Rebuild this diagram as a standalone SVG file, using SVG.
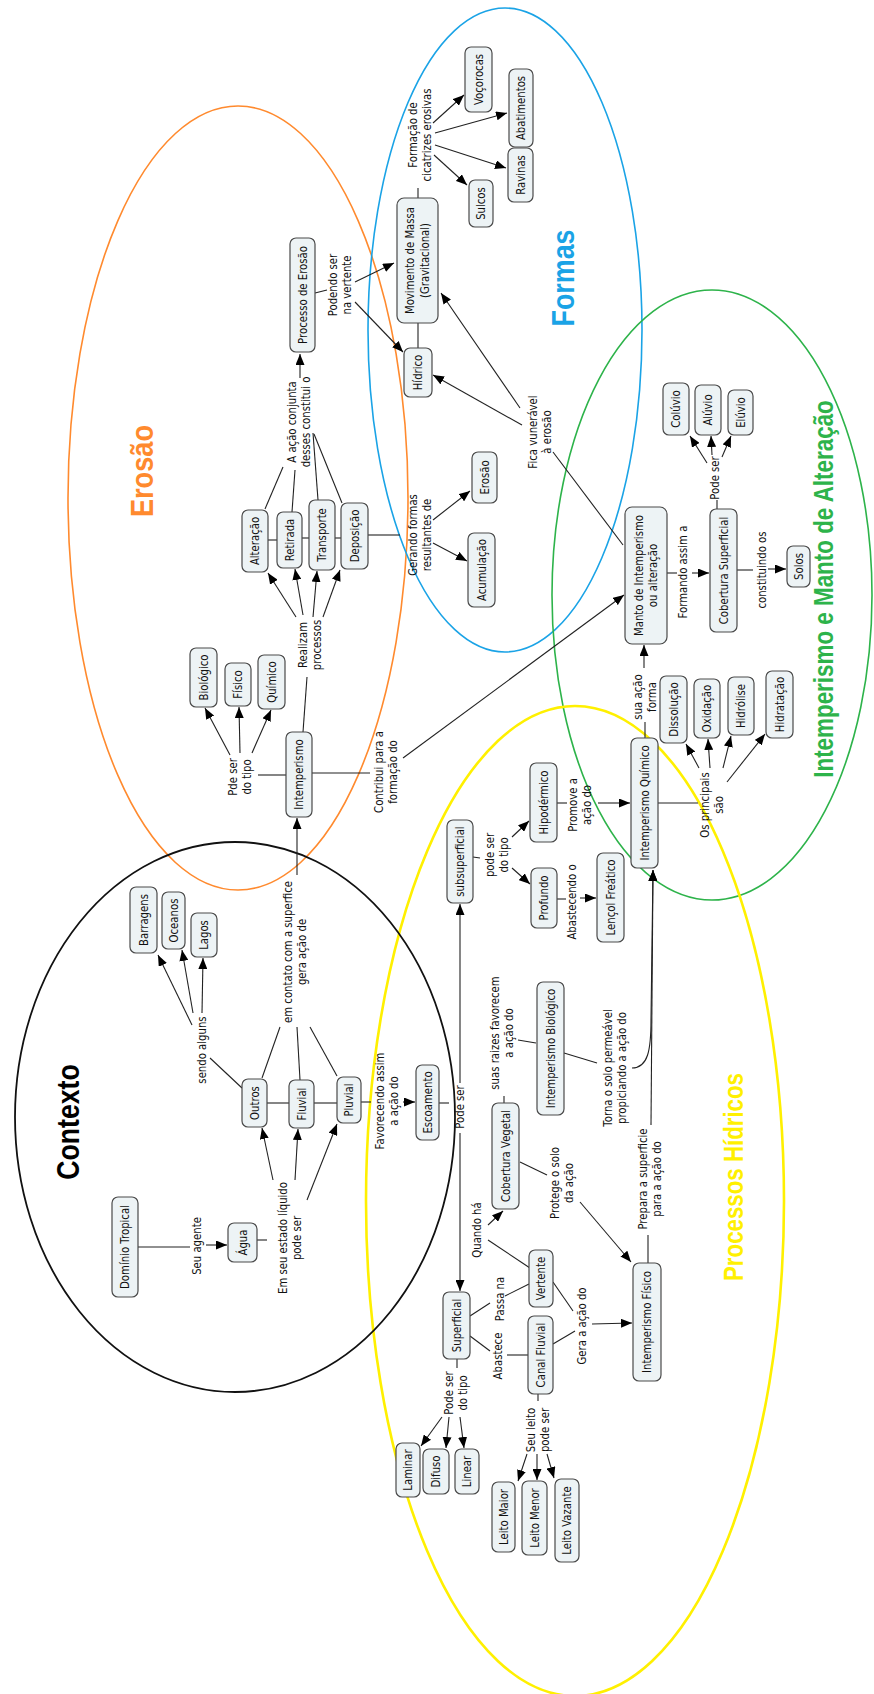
<svg xmlns="http://www.w3.org/2000/svg" width="874" height="1694" viewBox="0 0 874 1694">
<defs>
<style>
.n rect{fill:#EDF3F5;stroke:#4a4a4a;stroke-width:1.2}
.t{font-family:"DejaVu Sans",Verdana,sans-serif;font-size:11.5px;fill:#111;text-anchor:middle}
.ti{font-family:"Liberation Sans",Arial,sans-serif;font-weight:bold;text-anchor:middle}
#conn line,#conn path{stroke:#222;stroke-width:1.1;fill:none}
.ar{marker-end:url(#a)}
.el{fill:none}
</style>
<marker id="a" markerUnits="userSpaceOnUse" markerWidth="11" markerHeight="9" refX="11" refY="4.5" orient="auto"><path d="M0,0 L11,4.5 L0,9 z" fill="#000"/></marker>
</defs>
<rect width="874" height="1694" fill="#fff"/>
<g id="areas">
<ellipse class="el" cx="238" cy="498" rx="170" ry="392" stroke="#FF8A2E" stroke-width="1.6"/>
<ellipse class="el" cx="505" cy="330" rx="137" ry="322" stroke="#1AA3E6" stroke-width="1.6"/>
<ellipse class="el" cx="712" cy="595" rx="160" ry="305" stroke="#2DB34A" stroke-width="1.6"/>
<ellipse class="el" cx="575" cy="1201" rx="209" ry="495" stroke="#FFF000" stroke-width="2.6"/>
<ellipse class="el" cx="235" cy="1117" rx="220" ry="275" stroke="#111" stroke-width="1.8"/>
<text class="ti" font-size="32" fill="#FF8A2E" transform="translate(142,471) rotate(-90) scale(0.85,1)" y="11">Erosão</text>
<text class="ti" font-size="32" fill="#1AA3E6" transform="translate(563,278) rotate(-90) scale(0.84,1)" y="11">Formas</text>
<text class="ti" font-size="31" fill="#000" transform="translate(68,1122) rotate(-90) scale(0.86,1)" y="11">Contexto</text>
<text class="ti" font-size="27" fill="#2DB34A" transform="translate(823,589) rotate(-90) scale(0.83,1)" y="9.5">Intemperismo e Manto de Alteração</text>
<text class="ti" font-size="27" fill="#FFF000" transform="translate(733,1177) rotate(-90) scale(0.825,1)" y="9.5">Processos Hídricos</text>
</g>
<g id="conn">
<line x1="315" y1="293" x2="327" y2="290"/>
<line class="ar" x1="355" y1="282" x2="394" y2="263"/>
<line class="ar" x1="355" y1="302" x2="403" y2="352"/>
<line x1="418" y1="323" x2="418" y2="348"/>
<line x1="418" y1="198" x2="418" y2="188"/>
<line class="ar" x1="433" y1="123" x2="464" y2="95"/>
<line class="ar" x1="435" y1="133" x2="507" y2="113"/>
<line class="ar" x1="435" y1="145" x2="506" y2="168"/>
<line class="ar" x1="434" y1="155" x2="467" y2="185"/>
<line class="ar" x1="522" y1="425" x2="433" y2="375"/>
<line class="ar" x1="520" y1="408" x2="441" y2="293"/>
<line x1="623" y1="545" x2="553" y2="452"/>
<line class="ar" x1="300" y1="378" x2="300" y2="354"/>
<line x1="265" y1="509" x2="283" y2="467"/>
<line x1="292" y1="512" x2="295" y2="470"/>
<line x1="318" y1="500" x2="313" y2="433"/>
<line x1="342" y1="503" x2="314" y2="434"/>
<line x1="268" y1="540" x2="277" y2="540"/>
<line x1="302" y1="538" x2="309" y2="538"/>
<line x1="335" y1="538" x2="341" y2="538"/>
<line x1="303" y1="732" x2="307" y2="677"/>
<line class="ar" x1="296" y1="617" x2="268" y2="573"/>
<line class="ar" x1="303" y1="615" x2="295" y2="569"/>
<line class="ar" x1="313" y1="617" x2="317" y2="571"/>
<line class="ar" x1="323" y1="617" x2="340" y2="570"/>
<line x1="368" y1="535" x2="400" y2="535" stroke-width="2"/>
<line class="ar" x1="433" y1="520" x2="470" y2="491"/>
<line class="ar" x1="433" y1="543" x2="467" y2="561"/>
<line x1="286" y1="775" x2="258" y2="775"/>
<line class="ar" x1="230" y1="755" x2="205" y2="708"/>
<line class="ar" x1="240" y1="753" x2="239" y2="707"/>
<line class="ar" x1="252" y1="753" x2="271" y2="710"/>
<line x1="312" y1="773" x2="370" y2="773"/>
<line class="ar" x1="403" y1="758" x2="624" y2="595"/>
<line x1="667" y1="573" x2="677" y2="573"/>
<line class="ar" x1="692" y1="573" x2="709" y2="573"/>
<line x1="717" y1="509" x2="717" y2="500"/>
<line class="ar" x1="707" y1="463" x2="690" y2="436"/>
<line class="ar" x1="712" y1="455" x2="711" y2="436"/>
<line class="ar" x1="722" y1="457" x2="731" y2="436"/>
<line x1="737" y1="570" x2="753" y2="570"/>
<line class="ar" x1="768" y1="569" x2="786" y2="569"/>
<line class="ar" x1="644" y1="668" x2="644" y2="645"/>
<line x1="645" y1="738" x2="645" y2="722"/>
<line x1="658" y1="803" x2="698" y2="803"/>
<line class="ar" x1="699" y1="768" x2="686" y2="744"/>
<line class="ar" x1="710" y1="768" x2="708" y2="739"/>
<line class="ar" x1="723" y1="768" x2="731" y2="736"/>
<line class="ar" x1="727" y1="782" x2="765" y2="734"/>
<line class="ar" x1="598" y1="803" x2="630" y2="803"/>
<line x1="557" y1="803" x2="567" y2="803"/>
<line class="ar" x1="512" y1="837" x2="529" y2="821"/>
<line class="ar" x1="512" y1="868" x2="530" y2="884"/>
<line x1="473" y1="857" x2="480" y2="858"/>
<line x1="557" y1="899" x2="566" y2="899"/>
<line class="ar" x1="580" y1="898" x2="596" y2="898"/>
<line class="ar" x1="297" y1="875" x2="297" y2="818"/>
<line x1="262" y1="1078" x2="280" y2="1027"/>
<line x1="300" y1="1080" x2="297" y2="1027"/>
<line x1="337" y1="1076" x2="310" y2="1027"/>
<line x1="267" y1="1103" x2="289" y2="1103"/>
<line x1="314" y1="1103" x2="337" y2="1103" stroke-width="2"/>
<line x1="242" y1="1088" x2="210" y2="1058"/>
<line class="ar" x1="192" y1="1025" x2="158" y2="955"/>
<line class="ar" x1="193" y1="1013" x2="182" y2="950"/>
<line class="ar" x1="202" y1="1013" x2="203" y2="958"/>
<line x1="138" y1="1247" x2="190" y2="1247"/>
<line class="ar" x1="206" y1="1245" x2="227" y2="1245"/>
<line x1="257" y1="1240" x2="267" y2="1240"/>
<line class="ar" x1="273" y1="1180" x2="262" y2="1128"/>
<line class="ar" x1="295" y1="1180" x2="298" y2="1129"/>
<line class="ar" x1="307" y1="1200" x2="337" y2="1124"/>
<line x1="361" y1="1102" x2="371" y2="1102"/>
<line class="ar" x1="403" y1="1102" x2="415" y2="1102"/>
<line x1="439" y1="1103" x2="449" y2="1103"/>
<line class="ar" x1="460" y1="1083" x2="460" y2="904"/>
<line class="ar" x1="460" y1="1133" x2="460" y2="1291"/>
<line x1="504" y1="1103" x2="504" y2="1096"/>
<line x1="518" y1="1040" x2="536" y2="1043"/>
<line x1="564" y1="1053" x2="597" y2="1063"/>
<path class="ar" d="M632,1068 C648,1068 651,1050 651,1020 L653,870"/>
<line class="ar" x1="651" y1="1125" x2="653" y2="870"/>
<line x1="648" y1="1263" x2="648" y2="1235"/>
<line x1="520" y1="1162" x2="547" y2="1175"/>
<line class="ar" x1="580" y1="1202" x2="631" y2="1262"/>
<line class="ar" x1="488" y1="1225" x2="503" y2="1211"/>
<line x1="488" y1="1240" x2="530" y2="1268"/>
<line x1="470" y1="1316" x2="490" y2="1303"/>
<line x1="505" y1="1296" x2="529" y2="1284"/>
<line x1="470" y1="1336" x2="490" y2="1351"/>
<line x1="507" y1="1355" x2="528" y2="1355"/>
<line x1="553" y1="1282" x2="573" y2="1311"/>
<line x1="553" y1="1344" x2="575" y2="1331"/>
<line class="ar" x1="592" y1="1324" x2="632" y2="1323"/>
<line x1="457" y1="1359" x2="457" y2="1368"/>
<line class="ar" x1="442" y1="1417" x2="421" y2="1446"/>
<line class="ar" x1="449" y1="1417" x2="446" y2="1448"/>
<line class="ar" x1="460" y1="1417" x2="464" y2="1448"/>
<line x1="538" y1="1394" x2="538" y2="1401"/>
<line class="ar" x1="527" y1="1454" x2="518" y2="1481"/>
<line class="ar" x1="537" y1="1454" x2="537" y2="1480"/>
<line class="ar" x1="547" y1="1454" x2="554" y2="1478"/>
</g>
<g id="labels">
<text class="t" transform="translate(299,422) rotate(-90) scale(0.88,1)"><tspan x="0" y="-3.5">A ação conjunta</tspan><tspan x="0" y="11.5">desses constitui o</tspan></text>
<text class="t" transform="translate(340,285) rotate(-90) scale(0.88,1)"><tspan x="0" y="-3.5">Podendo ser</tspan><tspan x="0" y="11.5">na vertente</tspan></text>
<text class="t" transform="translate(420,135) rotate(-90) scale(0.88,1)"><tspan x="0" y="-3.5">Formação de</tspan><tspan x="0" y="11.5">cicatrizes erosivas</tspan></text>
<text class="t" transform="translate(540,432) rotate(-90) scale(0.88,1)"><tspan x="0" y="-3.5">Fica vunerável</tspan><tspan x="0" y="11.5">à erosão</tspan></text>
<text class="t" transform="translate(715,478) rotate(-90) scale(0.88,1)" y="4">Pode ser</text>
<text class="t" transform="translate(240,777) rotate(-90) scale(0.88,1)"><tspan x="0" y="-3.5">Pde ser</tspan><tspan x="0" y="11.5">do tipo</tspan></text>
<text class="t" transform="translate(310,645) rotate(-90) scale(0.88,1)"><tspan x="0" y="-3.5">Realizam</tspan><tspan x="0" y="11.5">processos</tspan></text>
<text class="t" transform="translate(420,535) rotate(-90) scale(0.88,1)"><tspan x="0" y="-3.5">Gerando formas</tspan><tspan x="0" y="11.5">resultantes de</tspan></text>
<text class="t" transform="translate(386,772) rotate(-90) scale(0.88,1)"><tspan x="0" y="-3.5">Contribui para a</tspan><tspan x="0" y="11.5">formação do</tspan></text>
<text class="t" transform="translate(683,572) rotate(-90) scale(0.88,1)" y="4">Formando assim a</text>
<text class="t" transform="translate(762,570) rotate(-90) scale(0.88,1)" y="4">constituindo os</text>
<text class="t" transform="translate(645,697) rotate(-90) scale(0.88,1)"><tspan x="0" y="-3.5">sua ação</tspan><tspan x="0" y="11.5">forma</tspan></text>
<text class="t" transform="translate(712,805) rotate(-90) scale(0.88,1)"><tspan x="0" y="-3.5">Os principais</tspan><tspan x="0" y="11.5">são</tspan></text>
<text class="t" transform="translate(580,805) rotate(-90) scale(0.88,1)"><tspan x="0" y="-3.5">Promove a</tspan><tspan x="0" y="11.5">ação do</tspan></text>
<text class="t" transform="translate(497,855) rotate(-90) scale(0.88,1)"><tspan x="0" y="-3.5">pode ser</tspan><tspan x="0" y="11.5">do tipo</tspan></text>
<text class="t" transform="translate(572,902) rotate(-90) scale(0.88,1)" y="4">Abastecendo o</text>
<text class="t" transform="translate(295,952) rotate(-90) scale(0.88,1)"><tspan x="0" y="-3.5">em contato com a superfice</tspan><tspan x="0" y="11.5">gera ação de</tspan></text>
<text class="t" transform="translate(202,1050) rotate(-90) scale(0.88,1)" y="4">sendo alguns</text>
<text class="t" transform="translate(197,1246) rotate(-90) scale(0.88,1)" y="4">Seu agente</text>
<text class="t" transform="translate(290,1238) rotate(-90) scale(0.88,1)"><tspan x="0" y="-3.5">Em seu estado líquido</tspan><tspan x="0" y="11.5">pode ser</tspan></text>
<text class="t" transform="translate(387,1101) rotate(-90) scale(0.88,1)"><tspan x="0" y="-3.5">Favorecendo assim</tspan><tspan x="0" y="11.5">a ação do</tspan></text>
<text class="t" transform="translate(460,1107) rotate(-90) scale(0.88,1)" y="4">Pode ser</text>
<text class="t" transform="translate(502,1033) rotate(-90) scale(0.88,1)"><tspan x="0" y="-3.5">suas raizes favorecem</tspan><tspan x="0" y="11.5">a ação do</tspan></text>
<text class="t" transform="translate(615,1068) rotate(-90) scale(0.88,1)"><tspan x="0" y="-3.5">Torna o solo permeável</tspan><tspan x="0" y="11.5">propiciando a ação do</tspan></text>
<text class="t" transform="translate(650,1179) rotate(-90) scale(0.88,1)"><tspan x="0" y="-3.5">Prepara a superficie</tspan><tspan x="0" y="11.5">para a ação do</tspan></text>
<text class="t" transform="translate(562,1183) rotate(-90) scale(0.88,1)"><tspan x="0" y="-3.5">Protege o solo</tspan><tspan x="0" y="11.5">da ação</tspan></text>
<text class="t" transform="translate(477,1230) rotate(-90) scale(0.88,1)" y="4">Quando há</text>
<text class="t" transform="translate(500,1299) rotate(-90) scale(0.88,1)" y="4">Passa na</text>
<text class="t" transform="translate(498,1356) rotate(-90) scale(0.88,1)" y="4">Abastece</text>
<text class="t" transform="translate(582,1326) rotate(-90) scale(0.88,1)" y="4">Gera a ação do</text>
<text class="t" transform="translate(456,1393) rotate(-90) scale(0.88,1)"><tspan x="0" y="-3.5">Pode ser</tspan><tspan x="0" y="11.5">do tipo</tspan></text>
<text class="t" transform="translate(538,1430) rotate(-90) scale(0.88,1)"><tspan x="0" y="-3.5">Seu leito</tspan><tspan x="0" y="11.5">pode ser</tspan></text>
</g>
<g id="n-processo" class="n"><rect x="290" y="238" width="25" height="114" rx="6"/><text class="t" transform="translate(302.5,295) rotate(-90) scale(0.88,1)" y="4">Processo de Erosão</text></g>
<g id="n-movimento" class="n"><rect x="397" y="198" width="41" height="125" rx="7"/><text class="t" transform="translate(417.5,260.5) rotate(-90) scale(0.88,1)"><tspan x="0" y="-3.5">Movimento de Massa</tspan><tspan x="0" y="11.5">(Gravitacional)</tspan></text></g>
<g id="n-hidrico" class="n"><rect x="404" y="348" width="28" height="49" rx="6"/><text class="t" transform="translate(418,372.5) rotate(-90) scale(0.88,1)" y="4">Hídrico</text></g>
<g id="n-vocorocas" class="n"><rect x="465" y="47" width="27" height="65" rx="6"/><text class="t" transform="translate(478.5,79.5) rotate(-90) scale(0.88,1)" y="4">Voçorocas</text></g>
<g id="n-abatimentos" class="n"><rect x="509" y="69" width="24" height="78" rx="6"/><text class="t" transform="translate(521,108) rotate(-90) scale(0.88,1)" y="4">Abatimentos</text></g>
<g id="n-ravinas" class="n"><rect x="508" y="148" width="25" height="54" rx="6"/><text class="t" transform="translate(520.5,175) rotate(-90) scale(0.88,1)" y="4">Ravinas</text></g>
<g id="n-sulcos" class="n"><rect x="469" y="180" width="24" height="47" rx="6"/><text class="t" transform="translate(481,203.5) rotate(-90) scale(0.88,1)" y="4">Sulcos</text></g>
<g id="n-coluvio" class="n"><rect x="663" y="383" width="26" height="52" rx="6"/><text class="t" transform="translate(676,409) rotate(-90) scale(0.88,1)" y="4">Colúvio</text></g>
<g id="n-aluvio" class="n"><rect x="695" y="385" width="26" height="50" rx="6"/><text class="t" transform="translate(708,410) rotate(-90) scale(0.88,1)" y="4">Alúvio</text></g>
<g id="n-eluvio" class="n"><rect x="728" y="390" width="25" height="45" rx="6"/><text class="t" transform="translate(740.5,412.5) rotate(-90) scale(0.88,1)" y="4">Elúvio</text></g>
<g id="n-alteracao" class="n"><rect x="242" y="510" width="26" height="62" rx="6"/><text class="t" transform="translate(255,541) rotate(-90) scale(0.88,1)" y="4">Alteração</text></g>
<g id="n-retirada" class="n"><rect x="277" y="512" width="25" height="56" rx="6"/><text class="t" transform="translate(289.5,540) rotate(-90) scale(0.88,1)" y="4">Retirada</text></g>
<g id="n-transporte" class="n"><rect x="309" y="500" width="26" height="70" rx="6"/><text class="t" transform="translate(322,535) rotate(-90) scale(0.88,1)" y="4">Transporte</text></g>
<g id="n-deposicao" class="n"><rect x="341" y="503" width="27" height="66" rx="6"/><text class="t" transform="translate(354.5,536) rotate(-90) scale(0.88,1)" y="4">Deposição</text></g>
<g id="n-biologico" class="n"><rect x="190" y="648" width="27" height="59" rx="6"/><text class="t" transform="translate(203.5,677.5) rotate(-90) scale(0.88,1)" y="4">Biológico</text></g>
<g id="n-fisico" class="n"><rect x="225" y="663" width="26" height="43" rx="6"/><text class="t" transform="translate(238,684.5) rotate(-90) scale(0.88,1)" y="4">Físico</text></g>
<g id="n-quimico" class="n"><rect x="258" y="655" width="27" height="54" rx="6"/><text class="t" transform="translate(271.5,682) rotate(-90) scale(0.88,1)" y="4">Químico</text></g>
<g id="n-intemperismo" class="n"><rect x="286" y="732" width="26" height="85" rx="6"/><text class="t" transform="translate(299,774.5) rotate(-90) scale(0.88,1)" y="4">Intemperismo</text></g>
<g id="n-erosao" class="n"><rect x="472" y="452" width="25" height="51" rx="6"/><text class="t" transform="translate(484.5,477.5) rotate(-90) scale(0.88,1)" y="4">Erosão</text></g>
<g id="n-acumulacao" class="n"><rect x="468" y="533" width="27" height="74" rx="6"/><text class="t" transform="translate(481.5,570) rotate(-90) scale(0.88,1)" y="4">Acumulação</text></g>
<g id="n-manto" class="n"><rect x="625" y="507" width="42" height="137" rx="7"/><text class="t" transform="translate(646,575.5) rotate(-90) scale(0.88,1)"><tspan x="0" y="-3.5">Manto de Intemperismo</tspan><tspan x="0" y="11.5">ou alteração</tspan></text></g>
<g id="n-cobsup" class="n"><rect x="710" y="509" width="27" height="123" rx="6"/><text class="t" transform="translate(723.5,570.5) rotate(-90) scale(0.88,1)" y="4">Cobertura Superficial</text></g>
<g id="n-solos" class="n"><rect x="787" y="546" width="23" height="41" rx="6"/><text class="t" transform="translate(798.5,566.5) rotate(-90) scale(0.88,1)" y="4">Solos</text></g>
<g id="n-dissolucao" class="n"><rect x="660" y="676" width="27" height="67" rx="6"/><text class="t" transform="translate(673.5,709.5) rotate(-90) scale(0.88,1)" y="4">Dissolução</text></g>
<g id="n-oxidacao" class="n"><rect x="694" y="679" width="26" height="59" rx="6"/><text class="t" transform="translate(707,708.5) rotate(-90) scale(0.88,1)" y="4">Oxidação</text></g>
<g id="n-hidrolise" class="n"><rect x="728" y="677" width="26" height="58" rx="6"/><text class="t" transform="translate(741,706) rotate(-90) scale(0.88,1)" y="4">Hidrólise</text></g>
<g id="n-hidratacao" class="n"><rect x="766" y="671" width="27" height="67" rx="6"/><text class="t" transform="translate(779.5,704.5) rotate(-90) scale(0.88,1)" y="4">Hidratação</text></g>
<g id="n-intquimico" class="n"><rect x="631" y="738" width="27" height="130" rx="6"/><text class="t" transform="translate(644.5,803) rotate(-90) scale(0.88,1)" y="4">Intemperismo Químico</text></g>
<g id="n-hipodermico" class="n"><rect x="530" y="763" width="27" height="79" rx="6"/><text class="t" transform="translate(543.5,802.5) rotate(-90) scale(0.88,1)" y="4">Hipodérmico</text></g>
<g id="n-subsuperficial" class="n"><rect x="447" y="820" width="26" height="83" rx="6"/><text class="t" transform="translate(460,861.5) rotate(-90) scale(0.88,1)" y="4">subsuperficial</text></g>
<g id="n-profundo" class="n"><rect x="531" y="868" width="26" height="60" rx="6"/><text class="t" transform="translate(544,898) rotate(-90) scale(0.88,1)" y="4">Profundo</text></g>
<g id="n-lencol" class="n"><rect x="597" y="853" width="27" height="89" rx="6"/><text class="t" transform="translate(610.5,897.5) rotate(-90) scale(0.88,1)" y="4">Lençol Freático</text></g>
<g id="n-barragens" class="n"><rect x="130" y="887" width="27" height="66" rx="6"/><text class="t" transform="translate(143.5,920) rotate(-90) scale(0.88,1)" y="4">Barragens</text></g>
<g id="n-oceanos" class="n"><rect x="162" y="892" width="23" height="57" rx="6"/><text class="t" transform="translate(173.5,920.5) rotate(-90) scale(0.88,1)" y="4">Oceanos</text></g>
<g id="n-lagos" class="n"><rect x="191" y="913" width="26" height="44" rx="6"/><text class="t" transform="translate(204,935) rotate(-90) scale(0.88,1)" y="4">Lagos</text></g>
<g id="n-outros" class="n"><rect x="242" y="1079" width="25" height="48" rx="6"/><text class="t" transform="translate(254.5,1103) rotate(-90) scale(0.88,1)" y="4">Outros</text></g>
<g id="n-fluvial" class="n"><rect x="289" y="1080" width="25" height="48" rx="6"/><text class="t" transform="translate(301.5,1104) rotate(-90) scale(0.88,1)" y="4">Fluvial</text></g>
<g id="n-pluvial" class="n"><rect x="337" y="1077" width="24" height="46" rx="6"/><text class="t" transform="translate(349,1100) rotate(-90) scale(0.88,1)" y="4">Pluvial</text></g>
<g id="n-escoamento" class="n"><rect x="416" y="1065" width="23" height="75" rx="6"/><text class="t" transform="translate(427.5,1102.5) rotate(-90) scale(0.88,1)" y="4">Escoamento</text></g>
<g id="n-intbiologico" class="n"><rect x="537" y="982" width="27" height="133" rx="6"/><text class="t" transform="translate(550.5,1048.5) rotate(-90) scale(0.88,1)" y="4">Intemperismo Biológico</text></g>
<g id="n-cobveg" class="n"><rect x="492" y="1103" width="27" height="106" rx="6"/><text class="t" transform="translate(505.5,1156) rotate(-90) scale(0.88,1)" y="4">Cobertura Vegetal</text></g>
<g id="n-agua" class="n"><rect x="228" y="1223" width="29" height="39" rx="6"/><text class="t" transform="translate(242.5,1242.5) rotate(-90) scale(0.88,1)" y="4">Água</text></g>
<g id="n-dominio" class="n"><rect x="112" y="1197" width="26" height="100" rx="6"/><text class="t" transform="translate(125,1247) rotate(-90) scale(0.88,1)" y="4">Domínio Tropical</text></g>
<g id="n-superficial" class="n"><rect x="443" y="1292" width="27" height="67" rx="6"/><text class="t" transform="translate(456.5,1325.5) rotate(-90) scale(0.88,1)" y="4">Superficial</text></g>
<g id="n-vertente" class="n"><rect x="529" y="1250" width="24" height="57" rx="6"/><text class="t" transform="translate(541,1278.5) rotate(-90) scale(0.88,1)" y="4">Vertente</text></g>
<g id="n-canal" class="n"><rect x="528" y="1316" width="25" height="78" rx="6"/><text class="t" transform="translate(540.5,1355) rotate(-90) scale(0.88,1)" y="4">Canal Fluvial</text></g>
<g id="n-intfisico" class="n"><rect x="633" y="1263" width="28" height="118" rx="6"/><text class="t" transform="translate(647,1322) rotate(-90) scale(0.88,1)" y="4">Intemperismo Físico</text></g>
<g id="n-laminar" class="n"><rect x="396" y="1443" width="24" height="54" rx="6"/><text class="t" transform="translate(408,1470) rotate(-90) scale(0.88,1)" y="4">Laminar</text></g>
<g id="n-difuso" class="n"><rect x="423" y="1449" width="26" height="45" rx="6"/><text class="t" transform="translate(436,1471.5) rotate(-90) scale(0.88,1)" y="4">Difuso</text></g>
<g id="n-linear" class="n"><rect x="455" y="1449" width="24" height="45" rx="6"/><text class="t" transform="translate(467,1471.5) rotate(-90) scale(0.88,1)" y="4">Linear</text></g>
<g id="n-leitomaior" class="n"><rect x="492" y="1482" width="23" height="70" rx="6"/><text class="t" transform="translate(503.5,1517) rotate(-90) scale(0.88,1)" y="4">Leito Maior</text></g>
<g id="n-leitomenor" class="n"><rect x="522" y="1481" width="25" height="74" rx="6"/><text class="t" transform="translate(534.5,1518) rotate(-90) scale(0.88,1)" y="4">Leito Menor</text></g>
<g id="n-leitovazante" class="n"><rect x="555" y="1479" width="24" height="83" rx="6"/><text class="t" transform="translate(567,1520.5) rotate(-90) scale(0.88,1)" y="4">Leito Vazante</text></g>
</svg>
